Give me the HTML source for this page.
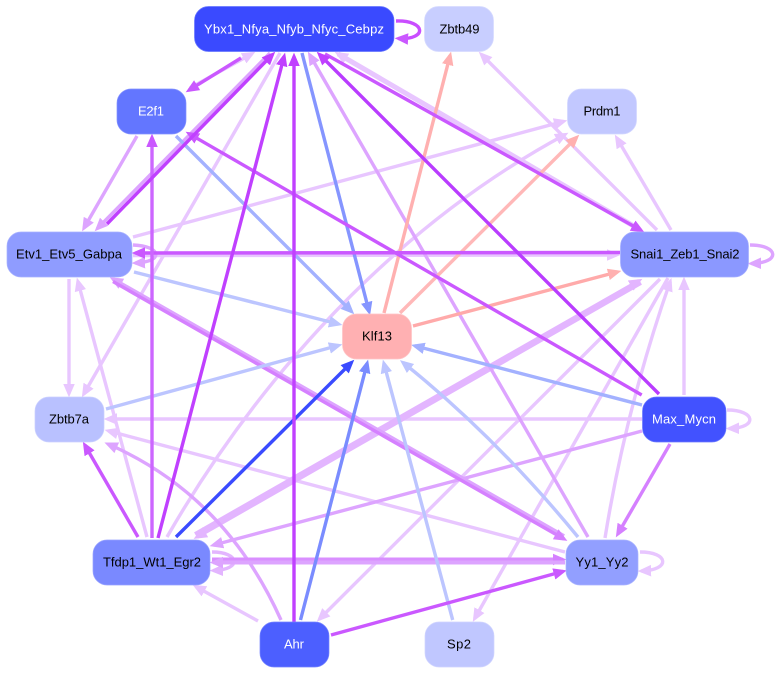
<!DOCTYPE html>
<html>
<head>
<meta charset="utf-8">
<style>
html,body{margin:0;padding:0;background:#fff;}
svg{display:block;}
text{font-family:"Liberation Sans",Arial,sans-serif;font-size:13px;text-anchor:middle;}
.e{fill:none;stroke-width:3.4;}
rect{stroke-width:.7;}
</style>
</head>
<body>
<svg xmlns="http://www.w3.org/2000/svg" width="779" height="674" viewBox="0 0 779 674">
<defs>
<marker id="mL" markerUnits="userSpaceOnUse" markerWidth="15" markerHeight="13" refX="9.6" refY="6.5" orient="auto"><polygon points="0,0.7 13.5,6.5 0,12.3" fill="#e8c6ff"/></marker>
<marker id="mM" markerUnits="userSpaceOnUse" markerWidth="15" markerHeight="13" refX="9.6" refY="6.5" orient="auto"><polygon points="0,0.7 13.5,6.5 0,12.3" fill="#dda4ff"/></marker>
<marker id="mP" markerUnits="userSpaceOnUse" markerWidth="15" markerHeight="13" refX="9.6" refY="6.5" orient="auto"><polygon points="0,0.7 13.5,6.5 0,12.3" fill="#ca58ff"/></marker>
<marker id="mV" markerUnits="userSpaceOnUse" markerWidth="15" markerHeight="13" refX="9.6" refY="6.5" orient="auto"><polygon points="0,0.7 13.5,6.5 0,12.3" fill="#c040ff"/></marker>
<marker id="mD" markerUnits="userSpaceOnUse" markerWidth="15" markerHeight="13" refX="9.6" refY="6.5" orient="auto"><polygon points="0,0.7 13.5,6.5 0,12.3" fill="#d580ff"/></marker>
<marker id="mT" markerUnits="userSpaceOnUse" markerWidth="15" markerHeight="13" refX="9.6" refY="6.5" orient="auto"><polygon points="0,0.7 13.5,6.5 0,12.3" fill="#e3b5ff"/></marker>
<marker id="mR" markerUnits="userSpaceOnUse" markerWidth="15" markerHeight="13" refX="9.6" refY="6.5" orient="auto"><polygon points="0,0.7 13.5,6.5 0,12.3" fill="#ffb0b0"/></marker>
<marker id="m1" markerUnits="userSpaceOnUse" markerWidth="15" markerHeight="13" refX="9.6" refY="6.5" orient="auto"><polygon points="0,0.7 13.5,6.5 0,12.3" fill="#3a4bff"/></marker>
<marker id="m2" markerUnits="userSpaceOnUse" markerWidth="15" markerHeight="13" refX="9.6" refY="6.5" orient="auto"><polygon points="0,0.7 13.5,6.5 0,12.3" fill="#7a8cff"/></marker>
<marker id="m3" markerUnits="userSpaceOnUse" markerWidth="15" markerHeight="13" refX="9.6" refY="6.5" orient="auto"><polygon points="0,0.7 13.5,6.5 0,12.3" fill="#8595ff"/></marker>
<marker id="m4" markerUnits="userSpaceOnUse" markerWidth="15" markerHeight="13" refX="9.6" refY="6.5" orient="auto"><polygon points="0,0.7 13.5,6.5 0,12.3" fill="#a3b1ff"/></marker>
<marker id="m5" markerUnits="userSpaceOnUse" markerWidth="15" markerHeight="13" refX="9.6" refY="6.5" orient="auto"><polygon points="0,0.7 13.5,6.5 0,12.3" fill="#bcc5ff"/></marker>
</defs>

<!-- light edges -->
<g class="edges">
<path class="e" stroke="#e8c6ff" marker-end="url(#mL)" d="M190,88 L252,53.7"/>
<path class="e" stroke="#e8c6ff" marker-end="url(#mL)" d="M280,53 L83.8,394"/>
<path class="e" stroke="#e8c6ff" style="stroke-width:5" marker-end="url(#mL)" d="M637,228 L338,53.8"/>
<path class="e" stroke="#e8c6ff" marker-end="url(#mL)" d="M657,230 L481.5,54.5"/>
<path class="e" stroke="#e8c6ff" marker-end="url(#mL)" d="M133,237 L563.6,121.4"/>
<path class="e" stroke="#e8c6ff" marker-end="url(#mL)" d="M167,537 C240,410 370,240 565,134.6"/>
<path class="e" stroke="#e8c6ff" marker-end="url(#mL)" d="M671,230 L616.8,138"/>
<path class="e" stroke="#e8c6ff" style="stroke-width:3.6" marker-end="url(#mL)" d="M133,255.5 L616.5,255"/>
<path class="e" stroke="#e8c6ff" marker-end="url(#mL)" d="M69,279 L69,393.5"/>
<path class="e" stroke="#e8c6ff" marker-end="url(#mL)" d="M147,537 L77.9,281.4"/>
<path class="e" stroke="#e8c6ff" marker-end="url(#mL)" d="M642,419 L107.5,419"/>
<path class="e" stroke="#e8c6ff" marker-end="url(#mL)" d="M565,552 L108.4,430.9"/>
<path class="e" stroke="#e8c6ff" marker-end="url(#mL)" d="M258,621 L196,586.7"/>
<path class="e" stroke="#e8c6ff" marker-end="url(#mL)" d="M660,279 L319.5,619"/>
<path class="e" stroke="#e8c6ff" marker-end="url(#mL)" d="M668,278 L474.7,618.5"/>
<path class="e" stroke="#e8c6ff" marker-end="url(#mL)" d="M605,538 Q626,408 670.2,281.5"/>
<path class="e" stroke="#e8c6ff" marker-end="url(#mL)" d="M684,395 L684,280.5"/>
<path class="e" stroke="#e8c6ff" marker-end="url(#mL)" d="M727,410 C756,410 758,428 729.5,428.5"/>
<path class="e" stroke="#e8c6ff" marker-end="url(#mL)" d="M640,552 C669,552 671,570 641.5,571"/>
<path class="e" stroke="#e3b5ff" marker-end="url(#mT)" d="M212,552 C240,552 242,570 213.5,570.5"/>

<path class="e" stroke="#e3b5ff" style="stroke-width:3.8" marker-end="url(#mT)" d="M195,534 L639,280.8"/>
<path class="e" stroke="#e3b5ff" style="stroke-width:3.8" marker-end="url(#mT)" d="M641,283 L197,537"/>

<!-- medium -->
<path class="e" stroke="#dda4ff" marker-end="url(#mM)" d="M137,136 L84,228"/>
<path class="e" stroke="#dda4ff" marker-end="url(#mM)" d="M270,53 L97.4,228.5"/>
<path class="e" stroke="#dda4ff" marker-end="url(#mM)" d="M588,537 L309.8,55"/>
<path class="e" stroke="#dda4ff" marker-end="url(#mM)" d="M133,245 C162,246 164,262 135.5,263"/>
<path class="e" stroke="#dda4ff" style="stroke-width:3.8" marker-end="url(#mM)" d="M564,536 L113,279"/>
<path class="e" stroke="#dda4ff" marker-end="url(#mM)" d="M281,620 Q225,495 108,444"/>
<path class="e" stroke="#dda4ff" marker-end="url(#mM)" d="M642,431 L213.4,545.1"/>
<path class="e" stroke="#dda4ff" marker-end="url(#mM)" d="M750,245 C779,245 781,263 751.5,263.5"/>
<path class="e" stroke="#d580ff" marker-end="url(#mD)" d="M113,281.5 L564,539"/>
<path class="e" stroke="#d98fff" style="stroke-width:4" marker-end="url(#mD)" d="M212,559.5 L562.5,559.5"/>
<path class="e" stroke="#dda4ff" style="stroke-width:4" marker-end="url(#mM)" d="M565,562.5 L213.5,562.5"/>
<path class="e" stroke="#d580ff" marker-end="url(#mD)" d="M670,444 L617.8,534"/>

<!-- pink -->
<path class="e" stroke="#ffb0b0" marker-end="url(#mR)" d="M384,313 L450.1,55.4"/>
<path class="e" stroke="#ffb8b8" marker-end="url(#mR)" d="M400,313 L576.5,137.5"/>
<path class="e" stroke="#ffaaaa" marker-end="url(#mR)" d="M413,326 L617.6,271.9"/>

<!-- blue -->
<path class="e" stroke="#bcc5ff" marker-end="url(#m5)" d="M134,272 L338.6,324.1"/>
<path class="e" stroke="#bcc5ff" marker-end="url(#m5)" d="M106,409 L338.6,345.4"/>
<path class="e" stroke="#bcc5ff" marker-end="url(#m5)" d="M452.7,620 L383.9,363.4"/>
<path class="e" stroke="#bcc5ff" marker-end="url(#m5)" d="M578,537 Q495,436 403,362.5"/>
<path class="e" stroke="#a3b1ff" marker-end="url(#m4)" d="M176,136 L351.5,311.5"/>
<path class="e" stroke="#a3b1ff" marker-end="url(#m4)" d="M642,405 L414.9,345.9"/>
<path class="e" stroke="#8595ff" marker-end="url(#m3)" d="M302,53 L369.1,311.6"/>
<path class="e" stroke="#7a8cff" marker-end="url(#m2)" d="M300.5,620 L367.1,363.4"/>
<path class="e" stroke="#3a4bff" marker-end="url(#m1)" d="M176,537 L351.5,362.5"/>

<!-- strong purple -->
<path class="e" stroke="#ca58ff" marker-end="url(#mP)" d="M241,58 L189,90.2"/>
<path class="e" stroke="#ca58ff" marker-end="url(#mP)" d="M325,54 L641,230.3"/>
<path class="e" stroke="#ca58ff" marker-end="url(#mP)" d="M620,252.5 L135.5,253"/>
<path class="e" stroke="#ca58ff" marker-end="url(#mP)" d="M138,537 L84.8,445"/>
<path class="e" stroke="#ca58ff" marker-end="url(#mP)" d="M331,635 L563.1,571.4"/>
<path class="e" stroke="#cc66ff" marker-end="url(#mP)" d="M152,538 L152,137.5"/>
<path class="e" stroke="#ca58ff" marker-end="url(#mP)" d="M641.7,395 L189,133.7"/>
<path class="e" stroke="#c94dff" marker-end="url(#mP)" d="M396,21 C426,20 428,40 398.5,38.5"/>
<path class="e" stroke="#c040ff" marker-end="url(#mV)" d="M107,224 L272.5,54.5"/>
<path class="e" stroke="#c040ff" marker-end="url(#mV)" d="M158,538 L284.1,56.4"/>
<path class="e" stroke="#c040ff" marker-end="url(#mV)" d="M294,622 L294,56.5"/>
<path class="e" stroke="#b93cff" marker-end="url(#mV)" d="M659,394 L319.5,54.5"/>
</g>

<!-- nodes -->
<rect x="194.5" y="6.5" width="199.5" height="45" rx="14" fill="#3a4aff" stroke="#6878ff"/>
<text x="294" y="33.5" fill="#fff" textLength="180" lengthAdjust="spacing">Ybx1_Nfya_Nfyb_Nfyc_Cebpz</text>
<rect x="424.5" y="6.5" width="69" height="45" rx="14" fill="#c8ceff" stroke="#d6daff"/>
<text x="459.5" y="33.5" fill="#000" textLength="40" lengthAdjust="spacing">Zbtb49</text>
<rect x="117" y="89" width="69" height="45" rx="14" fill="#6376ff" stroke="#8492ff"/>
<text x="151" y="115.5" fill="#fff" textLength="26" lengthAdjust="spacing">E2f1</text>
<rect x="567.5" y="89" width="69" height="45" rx="14" fill="#c2c8ff" stroke="#d2d6ff"/>
<text x="602" y="115.5" fill="#000" textLength="37" lengthAdjust="spacing">Prdm1</text>
<rect x="7" y="232" width="125" height="45" rx="14" fill="#8f9cff" stroke="#a8b2ff"/>
<text x="69" y="258.5" fill="#000" textLength="106" lengthAdjust="spacing">Etv1_Etv5_Gabpa</text>
<rect x="620.5" y="232" width="128" height="45" rx="14" fill="#8b98ff" stroke="#a4aeff"/>
<text x="685" y="258.5" fill="#000" textLength="109" lengthAdjust="spacing">Snai1_Zeb1_Snai2</text>
<rect x="342.5" y="314" width="69" height="45" rx="14" fill="#ffb0b2" stroke="#ffc4c6"/>
<text x="377" y="340.5" fill="#000" textLength="30" lengthAdjust="spacing">Klf13</text>
<rect x="35" y="397" width="69" height="45" rx="14" fill="#b9c1ff" stroke="#cbd0ff"/>
<text x="69" y="423.5" fill="#000" textLength="40" lengthAdjust="spacing">Zbtb7a</text>
<rect x="642.5" y="397" width="83.5" height="45" rx="14" fill="#4252ff" stroke="#6c7aff"/>
<text x="684" y="423.5" fill="#fff" textLength="64" lengthAdjust="spacing">Max_Mycn</text>
<rect x="93" y="540" width="117" height="45" rx="14" fill="#7a89ff" stroke="#98a3ff"/>
<text x="152" y="566.5" fill="#000" textLength="98" lengthAdjust="spacing">Tfdp1_Wt1_Egr2</text>
<rect x="566" y="540" width="72" height="45" rx="14" fill="#929fff" stroke="#aab4ff"/>
<text x="602" y="566.5" fill="#000" textLength="53" lengthAdjust="spacing">Yy1_Yy2</text>
<rect x="260" y="622" width="69" height="45" rx="14" fill="#4c5fff" stroke="#7483ff"/>
<text x="294" y="648.5" fill="#fff" textLength="20" lengthAdjust="spacing">Ahr</text>
<rect x="425" y="622" width="69" height="45" rx="14" fill="#c0c7ff" stroke="#d0d4ff"/>
<text x="459" y="648.5" fill="#000" textLength="24" lengthAdjust="spacing">Sp2</text>
</svg>
</body>
</html>
